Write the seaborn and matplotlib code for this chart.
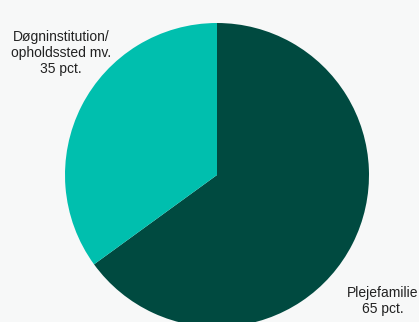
import matplotlib
matplotlib.use("Agg")
import matplotlib.pyplot as plt
import seaborn as sns

categories = ["Plejefamilie", "Døgninstitution/\nopholdssted mv."]
values = [65, 35]
colors = ["#004a40", "#00bfae"]

sns.set_theme(style="white")
plt.rcParams["font.family"] = ["Liberation Sans", "DejaVu Sans"]

W, H = 419, 322
fig = plt.figure(figsize=(W / 100, H / 100), dpi=100)
fig.patch.set_facecolor("#f7f8f8")
ax = fig.add_axes([0, 0, 1, 1])
ax.set_facecolor("#f7f8f8")

cx, cy, r = 217, H - 175, 152
ax.pie(values, colors=colors, startangle=90, counterclock=False,
       radius=r, center=(cx, cy), frame=True,
       wedgeprops=dict(linewidth=0))
ax.set_xlim(0, W)
ax.set_ylim(0, H)
ax.set_aspect("equal")
ax.axis("off")

ax.text(61, H - 53, f"{categories[1]}\n{values[1]} pct.", ha="center", va="center",
        fontsize=10, color="#222222", linespacing=1.22)
ax.text(383, H - 301, f"{categories[0]}\n{values[0]} pct.", ha="center", va="center",
        fontsize=10, color="#222222", linespacing=1.22)

fig.savefig("out.png", dpi=100, facecolor=fig.get_facecolor())
